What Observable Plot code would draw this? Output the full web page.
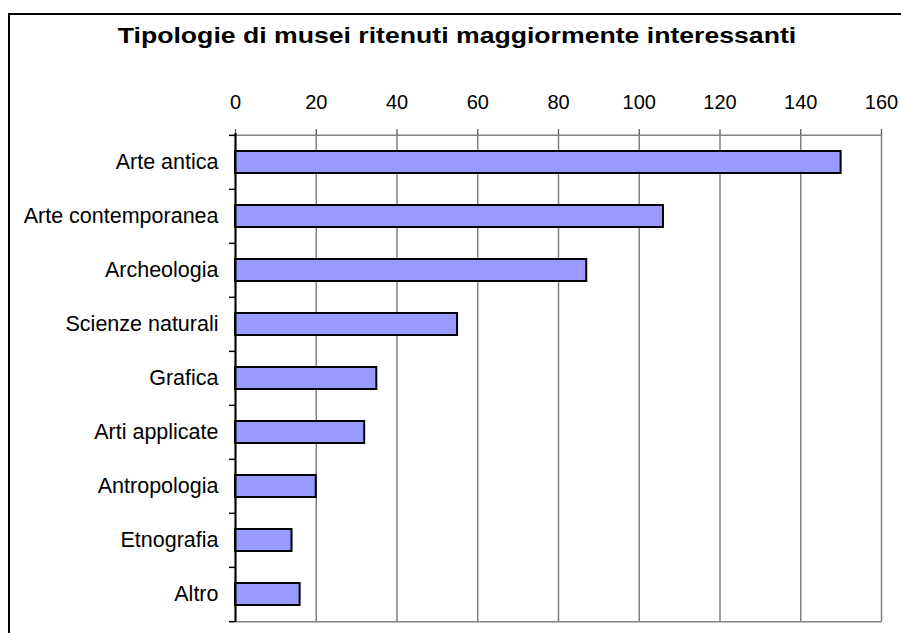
<!DOCTYPE html>
<html>
<head>
<meta charset="utf-8">
<script src="https://cdn.jsdelivr.net/npm/d3@7"></script>
<script src="https://cdn.jsdelivr.net/npm/@observablehq/plot@0.6"></script>
<style>
  html, body { margin: 0; padding: 0; background: #fff; }
  #wrap { position: relative; width: 901px; height: 633px; overflow: hidden; font-family: "Liberation Sans", Arial, sans-serif; }
  #frame { position: absolute; left: 8px; top: 13px; width: 900px; height: 700px; border: 2px solid #000; box-sizing: border-box; }
  #title { position: absolute; left: 7px; width: 900px; top: 23px; text-align: center; font-weight: bold; font-size: 22px; line-height: 26px; color: #000; transform: scaleX(1.21); transform-origin: 450px 0; white-space: nowrap; }
  #chart { position: absolute; left: 0; top: 0; }
</style>
</head>
<body>
<div id="wrap">
  <div id="frame"></div>
  <div id="title">Tipologie di musei ritenuti maggiormente interessanti</div>
  <div id="chart"></div>
</div>
<script>
const categories = ["Arte antica", "Arte contemporanea", "Archeologia", "Scienze naturali", "Grafica", "Arti applicate", "Antropologia", "Etnografia", "Altro"];
const values = [150, 106, 87, 55, 35, 32, 20, 14, 16];
const xTicks = [0, 20, 40, 60, 80, 100, 120, 140, 160];

const data = categories.map((c, i) => ({category: c, value: values[i]}));

const W = 901, H = 633, mt = 133, mb = 11, ml = 235, mr = 20;
const step = (H - mt - mb) / categories.length;

const chart = Plot.plot({
  width: W,
  height: H,
  marginTop: mt,
  marginBottom: mb,
  marginLeft: ml,
  marginRight: mr,
  style: {fontFamily: "'Liberation Sans', Arial, sans-serif", fontSize: "20px", color: "#000", background: "transparent"},
  x: {domain: [0, 160]},
  y: {domain: categories, paddingInner: 0.6, paddingOuter: 0.3},
  marks: [
    // gridlines
    Plot.ruleX(xTicks, {x: d => d, stroke: "#808080", strokeWidth: 1.5}),
    // plot border top/bottom
    Plot.ruleY([0], {y: () => categories[0], x1: 0, x2: 160, dy: -step / 2, stroke: "#808080", strokeWidth: 1.5}),
    Plot.ruleY([0], {y: () => categories[categories.length - 1], x1: 0, x2: 160, dy: step / 2, stroke: "#808080", strokeWidth: 1.5}),
    // top axis
    Plot.axisX(xTicks, {anchor: "top", tickSize: 5, tickPadding: 20, stroke: "#555", strokeWidth: 1.2, fill: "#000", fontSize: 20, label: null}),
    // bars
    Plot.barX(data, {y: "category", x: "value", fill: "#9999FF", stroke: "#000", strokeWidth: 2}),
    // y axis line
    Plot.ruleX([0], {stroke: "#000", strokeWidth: 2}),
    // y boundary ticks
    Plot.ruleY(categories, {y: d => d, x1: 0, x2: 0, insetLeft: -6, dy: -step / 2, stroke: "#000", strokeWidth: 1.5}),
    Plot.ruleY([categories[categories.length - 1]], {y: d => d, x1: 0, x2: 0, insetLeft: -6, dy: step / 2, stroke: "#000", strokeWidth: 1.5}),
    // y labels
    Plot.axisY({anchor: "left", tickSize: 0, tickPadding: 17, fontSize: 21.5, label: null})
  ]
});
document.getElementById("chart").appendChild(chart);
</script>
</body>
</html>
